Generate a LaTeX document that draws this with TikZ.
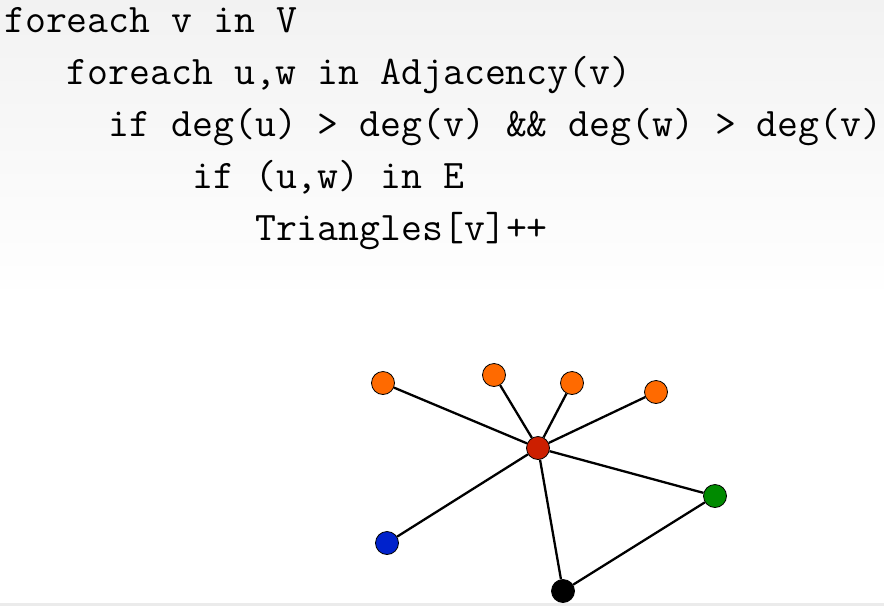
\documentclass[tikz,border=0pt]{standalone}
\definecolor{vorange}{HTML}{FF6A00}
\definecolor{vred}{HTML}{CC1F00}
\definecolor{vgreen}{HTML}{008A00}
\definecolor{vblue}{HTML}{0022CC}
\definecolor{bgtop}{HTML}{F2F2F2}
\definecolor{bandgray}{HTML}{EBEBEB}
\tikzset{
  codeline/.style={anchor=base west, inner sep=0pt, font=\ttfamily\fontsize{40.6}{46}\selectfont},
  vert/.style={circle, draw=black, line width=0.8pt, minimum size=23pt, inner sep=0pt},
  edge/.style={line width=2.3pt, black}
}
\begin{document}
\begin{tikzpicture}[x=1pt,y=-1pt]
\useasboundingbox (0,0) rectangle (884,606);
\shade[top color=bgtop, bottom color=white] (0,0) rectangle (884,300);
\fill[white] (0,300) rectangle (884,603);
\fill[bandgray] (0,603) rectangle (884,606);
\node[codeline] (l1) at (4,32) {foreach v in V};
\node[codeline] (l2) at (4,84) {\ \ \ foreach u,w in Adjacency(v)};
\node[codeline] (l3) at (4,136) {\ \ \ \ \ if deg(u) > deg(v) \&\& deg(w) > deg(v)};
\node[codeline] (l4) at (4,188) {\ \ \ \ \ \ \ \ \ if (u,w) in E};
\node[codeline] (l5) at (4,240) {\ \ \ \ \ \ \ \ \ \ \ \ Triangles[v]++};
% vertices
\node[vert, fill=vorange] (o1) at (383,383) {};
\node[vert, fill=vorange] (o2) at (494,375) {};
\node[vert, fill=vorange] (o3) at (572,383) {};
\node[vert, fill=vorange] (o4) at (656,392) {};
\node[vert, fill=vred] (r) at (538,448) {};
\node[vert, fill=vgreen] (g) at (715,496) {};
\node[vert, fill=vblue] (b) at (387,543) {};
\node[vert, fill=black] (k) at (563,591) {};
% edges
\draw[edge] (r) -- (o1);
\draw[edge] (r) -- (o2);
\draw[edge] (r) -- (o3);
\draw[edge] (r) -- (o4);
\draw[edge] (r) -- (g);
\draw[edge] (r) -- (b);
\draw[edge] (r) -- (k);
\draw[edge] (k) -- (g);
\end{tikzpicture}
\end{document}
